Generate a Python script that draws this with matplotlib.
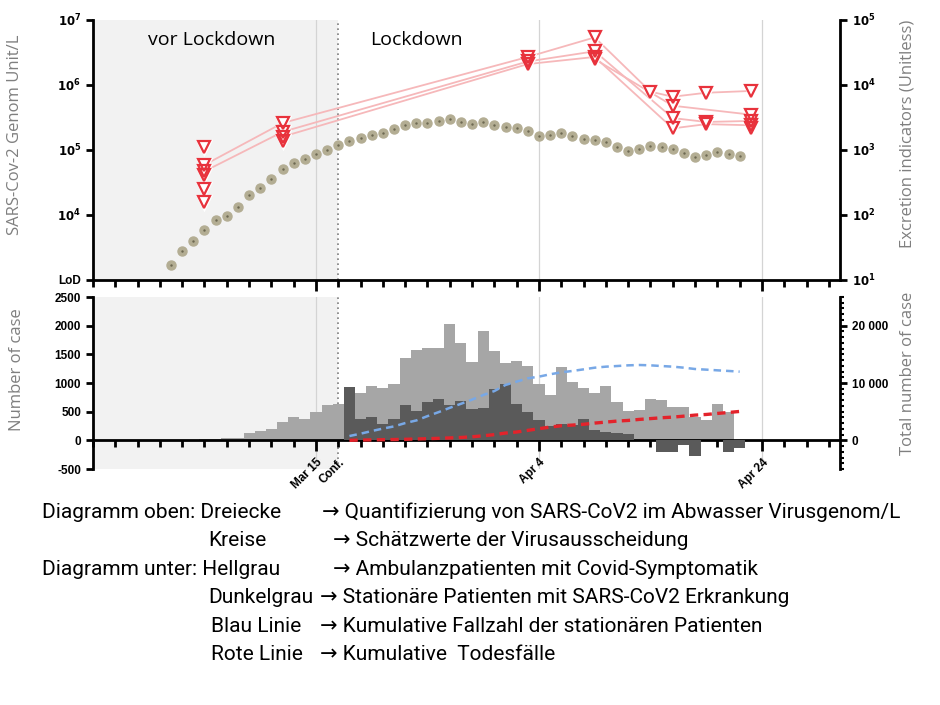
import matplotlib
matplotlib.use('Agg')
import matplotlib.pyplot as plt
from matplotlib import font_manager
from matplotlib.ticker import MultipleLocator, NullLocator

# Tage relativ zum 15. Maerz (0 = Mar 15, 2 = Conf., 20 = Apr 4, 40 = Apr 24)
circ_days = list(range(-13, 39))
circ = [17, 28, 40, 59, 83, 97, 134, 204, 257, 355,
        503, 623, 720, 871, 1000, 1194, 1358, 1548, 1722, 1820,
        2100, 2450, 2600, 2630, 2820, 3000, 2700, 2500,
        2700, 2425, 2240, 2200, 1990, 1665, 1680, 1800, 1640, 1460,
        1410, 1315, 1110, 975, 1050, 1165, 1120, 1020, 890, 775,
        850, 935, 870, 820]

# Dreiecke (Virusgenom/L), verbundene Serien
tri_series = [
    ([-10, -3, 19, 25, 30, 32, 35, 39], [5.9e4, 2.6e5, 2.7e6, 5.4e6, 7.9e5, 6.6e5, 7.6e5, 8.1e5]),
    ([-10, -3, 19, 25, 32, 35, 39], [4.7e4, 1.9e5, 2.3e6, 3.3e6, 3.1e5, 2.7e5, 2.8e5]),
    ([-3, 19, 25, 32, 35, 39], [1.6e5, 2.1e6, 2.7e6, 2.15e5, 2.5e5, 2.4e5]),
    ([25, 32, 39], [2.5e6, 4.8e5, 3.5e5]),
]
tri_single_days = [-10, -10, -10, -10, -3, 39]
tri_single = [1.12e5, 4.1e4, 2.5e4, 1.6e4, 1.4e5, 2.15e5]

light_days = list(range(-10, 38))
light = [30, 30, 35, 40, 133, 160, 190, 318, 405, 376, 500, 625, 640,
         800, 828, 955, 920, 990, 1430, 1575, 1610, 1610, 2027,
         1697, 1360, 1900, 1560, 1350, 1380, 1290, 990, 790, 1280,
         1020, 920, 820, 950, 660, 515, 530, 720, 706, 590,
         580, 405, 347, 630, 486]

line_days = list(range(3, 39))
dark = [926, 376, 405, 290, 376, 625, 510, 677, 718, 625,
        680, 538, 567, 895, 975, 637, 492, 359, 243, 290,
        260, 376, 174, 150, 127, 110, 0, 0, -200, -200,
        -75, -280, 0, 0, -205, -140]
blue = [750, 1160, 1620, 2050, 2430, 3010, 3470, 4220, 4920, 5670,
        6370, 7100, 7900, 8600, 9660, 10240, 10820, 11110, 11520, 11860,
        12100, 12380, 12670, 12850, 12960, 13080, 13140, 13080, 12960, 12850,
        12670, 12440, 12330, 12210, 12100, 11980]
red = [0, 50, 80, 110, 140, 180, 230, 290, 350, 420,
       500, 620, 800, 990, 1270, 1450, 1740, 2030, 2310, 2550,
       2660, 2800, 3010, 3180, 3360, 3470, 3650, 3790, 3940, 4050,
       4220, 4400, 4510, 4690, 4860, 5040]

x_labels = ['Mar 15', 'Conf.', 'Apr 4', 'Apr 24']
x_label_pos = [0, 2, 20, 40]

names = {f.name for f in font_manager.fontManager.ttflist}
narrow = 'Liberation Sans Narrow' if 'Liberation Sans Narrow' in names else 'Roboto'
plt.rcParams['font.family'] = ['Liberation Sans', 'DejaVu Sans']

fig = plt.figure(figsize=(9.4, 7.05), dpi=100)
W, H = 940, 705
ax1 = fig.add_axes([93 / W, 1 - 280 / H, 747 / W, 260 / H])
ax2 = fig.add_axes([93 / W, 1 - 469 / H, 747 / W, 172 / H])

for ax in (ax1, ax2):
    ax.set_xlim(-20, 47)
    ax.axvspan(-20, 2, color='#f2f2f2', zorder=0, lw=0)
    for d in (0, 20, 40):
        ax.axvline(d, color='#d4d4d4', lw=0.9, zorder=1)
    ax.axvline(2, color='#7f7f7f', lw=1.2, ls=(0, (1, 2)), zorder=1)
    ax.spines['top'].set_visible(False)
    ax.spines['right'].set_visible(False)
    ax.spines['left'].set_linewidth(2)
    ax.spines['bottom'].set_linewidth(2)
    ax.xaxis.set_minor_locator(MultipleLocator(2))
    ax.tick_params(axis='x', which='both', direction='out', width=2)
    ax.tick_params(axis='x', which='major', length=8)
    ax.tick_params(axis='x', which='minor', length=5)
    ax.tick_params(axis='y', which='major', width=2, length=5)

# oberes Diagramm
ax1.set_yscale('log')
ax1.set_ylim(1e3, 1e7)
ax1.yaxis.set_minor_locator(NullLocator())
ax1.set_yticks([1e3, 1e4, 1e5, 1e6, 1e7],
               ['LoD', r'$\mathbf{10^4}$', r'$\mathbf{10^5}$', r'$\mathbf{10^6}$', r'$\mathbf{10^7}$'],
               fontsize=8.5, fontweight='bold')
ax1.set_xticks([0, 20, 40], ['', '', ''])

for d, v in tri_series:
    ax1.plot(d, v, color='#f6b8ba', lw=1.3, zorder=2)
all_d = [x for d, v in tri_series for x in d] + tri_single_days
all_v = [y for d, v in tri_series for y in v] + tri_single
ax1.plot(all_d, all_v, 'v', ls='none', ms=8.5, mfc='white', mec='white', mew=2.5, zorder=3)
ax1.plot(all_d, all_v, 'v', ls='none', ms=8.5, mfc='none', mec='#e8323c', mew=1.6, zorder=4)

ax1r = ax1.twinx()
ax1r.set_yscale('log')
ax1r.set_ylim(10, 1e5)
ax1r.yaxis.set_minor_locator(NullLocator())
ax1r.set_yticks([1e1, 1e2, 1e3, 1e4, 1e5],
                [r'$\mathbf{10^1}$', r'$\mathbf{10^2}$', r'$\mathbf{10^3}$', r'$\mathbf{10^4}$', r'$\mathbf{10^5}$'],
                fontsize=8.5, fontweight='bold')
ax1r.tick_params(axis='y', width=2, length=5)
for s in ('left', 'top', 'bottom'):
    ax1r.spines[s].set_visible(False)
ax1r.spines['right'].set_linewidth(2)
ax1r.plot(circ_days, circ, 'o', ls='none', ms=6.5, color='#b3ad93', mec='#b3ad93')
ax1r.plot(circ_days, circ, '.', ls='none', ms=1.5, color='#6d6852')

# unteres Diagramm
ax2.set_ylim(-500, 2500)
ax2.spines['bottom'].set_position(('data', 0))
ax2.set_yticks([-500, 0, 500, 1000, 1500, 2000, 2500],
               ['-500', '0', '500', '1000', '1500', '2000', '2500'],
               fontsize=8.5, fontweight='bold')
ax2.set_xticks(x_label_pos, x_labels, rotation=45, ha='right', rotation_mode='anchor',
               fontsize=8.5, fontweight='bold')
ax2.xaxis.get_major_ticks()[1].tick1line.set_markersize(5)
ax2.bar(light_days, light, width=1.0, color='#a6a6a6', lw=0, zorder=2)
ax2.bar(line_days, dark, width=1.0, color='#5a5a5a', lw=0, zorder=3)

ax2r = ax2.twinx()
ax2r.set_ylim(-5000, 25000)
for s in ('left', 'top', 'bottom'):
    ax2r.spines[s].set_visible(False)
ax2r.spines['right'].set_linewidth(2)
ax2r.set_yticks([0, 10000, 20000], ['0', '10 000', '20 000'], fontsize=8.5, fontweight='bold')
ax2r.yaxis.set_minor_locator(MultipleLocator(1000))
ax2r.tick_params(axis='y', which='major', width=2, length=5)
ax2r.tick_params(axis='y', which='minor', width=1.5, length=3)
ax2r.plot(line_days, blue, color='#78a8e6', lw=1.8, ls=(0, (3, 2)))
ax2r.plot(line_days, red, color='#e3232b', lw=2.4, ls=(0, (2.5, 1.6)))

# Beschriftungen
grey = '#7f7f7f'
sans = ['Open Sans', 'DejaVu Sans']
fig.text(15 / W, 1 - 135 / H, 'SARS-Cov-2 Genom Unit/L', rotation=90, ha='center', va='center',
         color=grey, fontsize=12, family=sans)
fig.text(908 / W, 1 - 134 / H, 'Excretion indicators (Unitless)', rotation=90, ha='center', va='center',
         color=grey, fontsize=12, family=sans)
fig.text(17 / W, 1 - 370 / H, 'Number of case', rotation=90, ha='center', va='center',
         color=grey, fontsize=12, family=sans)
fig.text(908 / W, 1 - 373 / H, 'Total number of case', rotation=90, ha='center', va='center',
         color=grey, fontsize=12, family=sans)
fig.text(212 / W, 1 - 40 / H, 'vor Lockdown', ha='center', va='center', fontsize=14, family=sans)
fig.text(416 / W, 1 - 40 / H, 'Lockdown', ha='center', va='center', fontsize=14, family=sans)

legend_rows = [
    (42, 'Diagramm oben: Dreiecke', 322, 'Quantifizierung von SARS-CoV2 im Abwasser Virusgenom/L'),
    (208, 'Kreise', 333, 'Schätzwerte der Virusausscheidung'),
    (42, 'Diagramm unter: Hellgrau', 333, 'Ambulanzpatienten mit Covid-Symptomatik'),
    (208, 'Dunkelgrau', 320, 'Stationäre Patienten mit SARS-CoV2 Erkrankung'),
    (211, 'Blau Linie', 320, 'Kumulative Fallzahl der stationären Patienten'),
    (211, 'Rote Linie', 320, 'Kumulative  Todesfälle'),
]
fam = [narrow, 'DejaVu Sans']
for i, (xl, left, xa, right) in enumerate(legend_rows):
    y = 1 - (512 + i * 28.6) / H
    fig.text(xl / W, y, left, ha='left', va='center', fontsize=15, family=fam)
    fig.text(xa / W, y, '\u2192 ' + right, ha='left', va='center', fontsize=15, family=fam)

fig.savefig('out.png', dpi=100)
